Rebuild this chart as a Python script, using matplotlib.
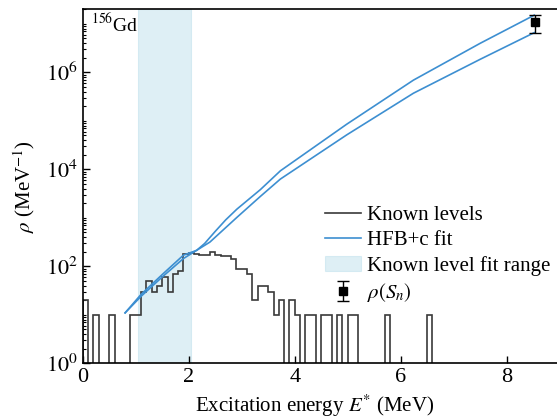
import numpy as np
import matplotlib
matplotlib.use("Agg")
from matplotlib import pyplot as plt
from matplotlib.ticker import LogLocator, FixedLocator, NullFormatter, FuncFormatter

plt.rcParams['font.family'] = ['Liberation Serif', 'DejaVu Serif']
plt.rcParams['mathtext.fontset'] = 'stix'
plt.rcParams['font.size'] = 15

# known levels histogram: 0.1 MeV bins, density in MeV^-1
bin_edges = np.round(np.arange(0, 6.61, 0.1), 2)
rho_levels = [20, 0, 10, 0, 0, 10, 0, 0, 0, 10,
              10, 30, 50, 30, 40, 60, 30, 70, 80, 180,
              190, 180, 170, 170, 200, 170, 160, 160, 140, 90,
              90, 70, 20, 40, 40, 30, 10, 20, 0, 20,
              10, 0, 10, 10, 0, 10, 10, 0, 10, 0,
              10, 10, 0, 0, 0, 0, 0, 10, 0, 0,
              0, 0, 0, 0, 0, 10]

# HFB+c fit curves (log10 rho)
fit_a_E = [0.8, 1.1, 1.5, 1.9, 2.15, 2.3, 2.5, 2.7, 2.91, 3.35, 3.73, 4.98, 6.24, 7.5, 8.52]
fit_a_log = [1.04, 1.38, 1.78, 2.16, 2.33, 2.47, 2.72, 2.96, 3.18, 3.58, 3.97, 4.93, 5.84, 6.60, 7.18]
fit_b_E = [0.8, 1.1, 1.5, 1.9, 2.15, 2.4, 2.91, 3.35, 3.73, 4.98, 6.24, 7.5, 8.52]
fit_b_log = [1.04, 1.42, 1.83, 2.23, 2.33, 2.50, 3.01, 3.44, 3.80, 4.71, 5.57, 6.27, 6.82]

# rho at neutron separation energy
sn_E = [8.54]
sn_rho = [1.1e7]
sn_err_lo = [4.5e6]
sn_err_hi = [4.5e6]

fit_range = (1.05, 2.05)

fig = plt.figure(figsize=(5.57, 4.19), dpi=100)
ax = fig.add_axes([82.7 / 557, (419 - 363.3) / 419, 477 / 557, 354 / 419])

ax.axvspan(fit_range[0], fit_range[1], facecolor='#add8e6', alpha=0.4,
           edgecolor='#add8e6', lw=0.8, label='Known level fit range', zorder=0)

draw_vals = np.where(np.array(rho_levels) > 0, rho_levels, 1e-3)
ax.stairs(draw_vals, bin_edges, baseline=1e-3, color='#3a3a3a', lw=1.2,
          label='Known levels', zorder=2)

blue = '#3d8fd1'
ax.plot(fit_a_E, 10 ** np.array(fit_a_log), color=blue, lw=1.2, label='HFB+c fit', zorder=3)
ax.plot(fit_b_E, 10 ** np.array(fit_b_log), color=blue, lw=1.2, zorder=3)

ax.errorbar(sn_E, sn_rho, yerr=[sn_err_lo, sn_err_hi], fmt='s', color='black',
            ms=6, capsize=4, elinewidth=1.0, capthick=1.0, label=r'$\rho(S_n)$', zorder=4)

ax.set_yscale('log')
ax.set_xlim(0, 9)
ax.set_ylim(1, 2e7)
ax.set_xticks([0, 2, 4, 6, 8])
ax.yaxis.set_major_locator(FixedLocator([1, 1e2, 1e4, 1e6]))
ax.yaxis.set_major_formatter(FuncFormatter(lambda v, p: r'$10^{%d}$' % round(np.log10(v))))
ax.yaxis.set_minor_locator(LogLocator(base=10, subs=np.arange(1, 10), numticks=20))
ax.yaxis.set_minor_formatter(NullFormatter())
ax.tick_params(direction='in', which='major', length=5, width=1, labelsize=16)
ax.tick_params(direction='in', which='minor', length=2.5, width=0.8)
for s in ax.spines.values():
    s.set_linewidth(1.2)

ax.set_xlabel(r'Excitation energy $E^{*}$ (MeV)', fontsize=15)
ax.set_ylabel(r'$\rho$ (MeV$^{-1}$)', fontsize=15)
ax.xaxis.set_label_coords(0.487, -0.082)
ax.yaxis.set_label_coords(-0.096, 0.5)

ax.text(0.017, 0.99, r'$^{156}$Gd', transform=ax.transAxes, ha='left', va='top', fontsize=14)

handles, labels = ax.get_legend_handles_labels()
order = ['Known levels', 'HFB+c fit', 'Known level fit range', r'$\rho(S_n)$']
hmap = dict(zip(labels, handles))
ax.legend([hmap[k] for k in order], order, loc='upper left',
          bbox_to_anchor=((317 - 82.7) / 477, (363.3 - 197) / 354),
          frameon=False, fontsize=15, handlelength=1.7, handletextpad=0.3,
          labelspacing=0.27, borderaxespad=0)

fig.savefig('out.png', dpi=100)
